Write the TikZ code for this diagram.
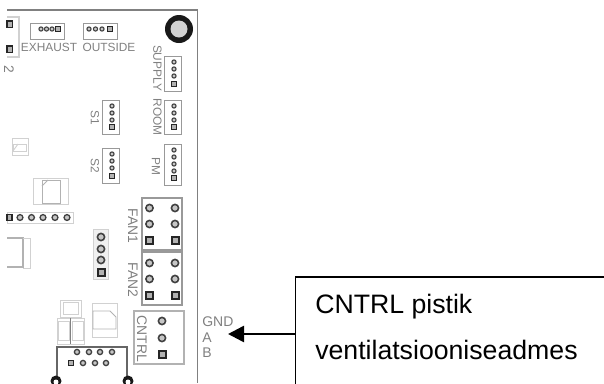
\documentclass[tikz,border=0pt]{standalone}
\usepackage{fontspec}
\setmainfont{Liberation Sans}
\usetikzlibrary{arrows.meta}
\definecolor{silk}{gray}{0.5}
\definecolor{faint}{gray}{0.82}
\definecolor{pad}{gray}{0.25}
\tikzset{
    partbox/.style={draw=silk!80,line width=0.7pt},
    faintbox/.style={draw=faint,line width=0.7pt},
    lowpin/.style={draw=pad,fill=gray!45,line width=0.8pt},
    bigpin/.style={draw=pad,fill=gray!45,line width=1.2pt},
    lowsq/.style={draw=black!85,fill=gray!60,line width=0.9pt},
    bigsq/.style={draw=black!85,fill=gray!60,line width=1.5pt},
    silklabel/.style={text=silk,font=\fontsize{8.9}{10}\selectfont,inner sep=0pt},
    sidelabel/.style={silklabel,rotate=-90},
    widelabel/.style={sidelabel,font=\fontsize{10.4}{12}\selectfont},
    pinlabel/.style={text=silk,font=\fontsize{10.5}{12}\selectfont,inner sep=0pt,anchor=base west},
    calloutbox/.style={draw=black,line width=0.9pt,anchor=north west,minimum width=240pt,minimum height=85.5pt,outer sep=0pt},
    callouttext/.style={text=black,font=\fontsize{20}{24}\selectfont,inner sep=0pt,anchor=base west},
}
\begin{document}
\begin{tikzpicture}[x=0.75pt,y=-0.75pt]
    \useasboundingbox (0,0) rectangle (604,383);
    \clip (0,0) rectangle (604,383);
    \def\s{2.1};
    \def\b{3.6};
    % board edge
    \draw[silk,line width=0.8pt] (7,10) -- (197.5,10) -- (197.5,383);
    % mounting hole
    \fill[black!90] (179,29) circle (14);
    \fill[gray!35] (179,29) circle (8.5);
    % top left corner
    \draw[faintbox,line width=1pt] (7,17) -- (19,17) -- (19,57) -- (7,57);
    \draw[lowsq,line width=1.2pt] (7,21) rectangle (12.5,27.5);
    \draw[lowsq,line width=1.2pt] (7,46) rectangle (12.5,52.5);
    \node[widelabel,anchor=center] (labeltwo) at (9,69) {2};
    % exhaust and outside
    \draw[partbox] (30,23) rectangle (64.5,39);
    \draw[partbox] (83,23) rectangle (117,39);
    \foreach \x in {41,46.5,52}{
        \draw[lowpin] (\x,29) circle (\s);}
    \draw[lowsq] (55.5,26.5) rectangle (60.5,31.5);
    \foreach \x in {89,95.5,102}{
        \draw[lowpin] (\x,29) circle (\s);}
    \draw[lowsq] (107.5,26.5) rectangle (112.5,31.5);
    \node[silklabel] (exhaust) at (49,47) {EXHAUST};
    \node[silklabel] (outside) at (109,47) {OUTSIDE};
    % vertical headers
    \draw[partbox] (164,56) rectangle (181,91);
    \draw[partbox] (164,100) rectangle (181,134);
    \draw[partbox] (164,144) rectangle (181,185);
    \draw[partbox] (102,100) rectangle (119,134);
    \draw[partbox] (102,148) rectangle (119,183);
    \foreach \y in {62,69,76}{
        \draw[lowpin] (174,\y) circle (\s);}
    \draw[lowsq] (171.5,81.5) rectangle (176.5,86.5);
    \foreach \y in {106,113,120}{
        \draw[lowpin] (174,\y) circle (\s);
        \draw[lowpin] (112,\y) circle (\s);}
    \draw[lowsq] (171.5,124.5) rectangle (176.5,129.5);
    \draw[lowsq] (109.5,124.5) rectangle (114.5,129.5);
    \foreach \y in {150,157,164,171}{
        \draw[lowpin] (174,\y) circle (\s);}
    \draw[lowsq] (171.5,175.5) rectangle (176.5,180.5);
    \foreach \y in {154,161,168}{
        \draw[lowpin] (112,\y) circle (\s);}
    \draw[lowsq] (109.5,173.5) rectangle (114.5,178.5);
    \node[sidelabel] (supply) at (157.5,68) {SUPPLY};
    \node[sidelabel] (room) at (157.5,117) {ROOM};
    \node[sidelabel] (pm) at (156,166) {PM};
    \node[sidelabel] (sone) at (95,118) {S1};
    \node[sidelabel] (stwo) at (95,166) {S2};
    % small parts on the left
    \draw[faintbox] (12,138) rectangle (28,155);
    \draw[faintbox] (13,144) rectangle (26,151);
    \draw[faintbox] (13,151) -- (18,144);
    \draw[faintbox] (33,178) rectangle (68,204);
    \draw[draw=gray!60,line width=0.7pt] (42,180) rectangle (60,203);
    \draw[draw=gray!60,line width=0.6pt] (42,186) -- (48,180);
    \draw[faintbox] (7,212) rectangle (73,223);
    \draw[lowsq,line width=1.2pt] (7,214.5) rectangle (12,220.5);
    \foreach \x in {20,31.5,43,55,67}{
        \draw[lowpin,line width=1pt] (\x,217.5) circle (2.9);}
    \draw[draw=gray!60,line width=0.8pt] (7,238) -- (23,238) -- (23,267) -- (7,267);
    \draw[faintbox] (23,238) -- (30,238) -- (30,268) -- (23,268);
    \fill[gray!12] (93,229) rectangle (108,279);
    \draw[faintbox] (93,229) rectangle (108,279);
    \foreach \y in {237,249,260}{
        \draw[bigpin] (101,\y) circle (\b);}
    \draw[bigsq] (97.5,268.5) rectangle (104.5,275.5);
    % fan headers
    \draw[partbox,line width=1pt] (142,198) rectangle (182,250);
    \draw[partbox,line width=1pt] (142,252) rectangle (182,305);
    \foreach \x in {149.5,175}{
        \foreach \y in {208,224,263,279}{
            \draw[bigpin] (\x,\y) circle (\b);}
        \draw[bigsq] (\x-3.5,236.5) rectangle (\x+3.5,243.5);
        \draw[bigsq] (\x-3.5,291.5) rectangle (\x+3.5,298.5);}
    \node[widelabel] (fanone) at (133,226) {FAN1};
    \node[widelabel] (fantwo) at (133,280) {FAN2};
    % cntrl header
    \draw[partbox,draw=silk!60,line width=1pt] (134,311) rectangle (184,364);
    \foreach \y in {321,338}{
        \draw[bigpin] (162,\y) circle (\b);}
    \draw[bigsq] (158.5,350.5) rectangle (165.5,357.5);
    \node[widelabel] (cntrl) at (142,339) {CNTRL};
    % parts under the fans
    \draw[faintbox] (60,300) rectangle (81,317);
    \draw[faintbox] (63,302) rectangle (78,314);
    \draw[faintbox] (57,318) rectangle (84,344);
    \draw[faintbox] (58,321) rectangle (69,340);
    \draw[faintbox] (72,321) rectangle (83,340);
    \draw[silk,line width=0.5pt] (70.5,318) -- (70.5,344);
    \draw[faintbox] (92,303) rectangle (117,337);
    \draw[draw=gray!60,line width=0.7pt] (93,311) -- (110,311) -- (116,317) -- (116,329) -- (93,329) -- cycle;
    % network socket
    \draw[draw=pad!80,line width=0.8pt] (57,383) -- (57,347) -- (127,347) -- (127,383);
    \foreach \x in {77,89,100,112}{
        \draw[lowpin,line width=1pt] (\x,352) circle (2.6);}
    \foreach \x in {83,95,106}{
        \draw[lowpin,line width=1pt] (\x,363) circle (2.6);}
    \draw[lowsq,line width=1.2pt] (68.5,360.5) rectangle (73.5,365.5);
    \fill[black!90] (56,381) circle (5.5);
    \fill[white] (56,382) circle (2.5);
    \fill[black!90] (128,381) circle (5.5);
    \fill[white] (128,382) circle (2.5);
    % pin names
    \node[pinlabel] (gnd) at (202,326) {GND};
    \node[pinlabel] (pina) at (202,342) {A};
    \node[pinlabel] (pinb) at (202,357) {B};
    % callout
    \node[calloutbox] (ctrlbox) at (295.5,277) {};
    \node[callouttext] (ctrlname) at (315,313) {CNTRL pistik};
    \node[callouttext] (ctrlwhere) at (315,359) {ventilatsiooniseadmes};
    \coordinate (gndtip) at (228,334);
    \draw[-{Triangle[length=12pt,width=12pt]},line width=1.9pt] (ctrlbox.west) -- (gndtip);
\end{tikzpicture}
\end{document}
